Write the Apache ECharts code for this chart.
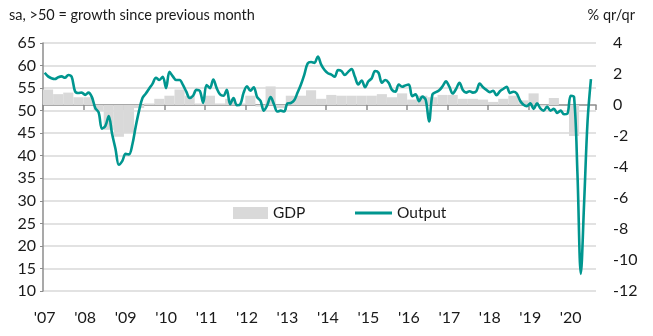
<!DOCTYPE html>
<html>
<head>
<meta charset="utf-8">
<script src="https://cdn.jsdelivr.net/npm/echarts@6/dist/echarts.min.js"></script>
<style>
html,body{margin:0;padding:0;background:#fff;}
#chart{width:653px;height:336px;}
</style>
</head>
<body>
<div id="chart"></div>
<script>
// ---- data ----
const yearLabels = ["'07","'08","'09","'10","'11","'12","'13","'14","'15","'16","'17","'18","'19","'20"];
// Output PMI (monthly, sa, >50 = growth)
const pmi2007 = [58.4, 57.6, 57.2, 57.0, 57.4, 57.6, 57.3, 57.9, 57.5, 54.3, 53.9, 54.0];
const pmi2008 = [53.5, 54.0, 53.0, 50.6, 49.6, 46.0, 46.6, 48.8, 44.8, 41.5, 38.0, 38.8];
const pmi2009 = [40.4, 40.3, 42.5, 46.5, 50.0, 52.8, 53.8, 54.9, 56.0, 57.3, 56.8, 57.5];
const pmi2010 = [55.0, 58.6, 57.6, 56.8, 56.8, 55.7, 54.2, 52.8, 53.3, 54.6, 54.4, 51.7];
const pmi2011 = [55.7, 55.0, 56.9, 55.0, 53.6, 53.3, 54.6, 51.4, 52.8, 51.2, 51.4, 54.0];
const pmi2012 = [55.4, 54.4, 55.2, 53.0, 52.2, 50.0, 51.2, 53.0, 51.4, 49.8, 50.0, 49.8];
const pmi2013 = [51.6, 51.7, 52.3, 54.0, 55.8, 58.0, 60.5, 60.8, 60.6, 62.0, 60.2, 59.0];
const pmi2014 = [58.3, 58.0, 57.5, 59.0, 58.8, 57.9, 58.6, 59.2, 57.5, 55.8, 56.7, 55.2];
const pmi2015 = [56.5, 57.2, 58.8, 58.4, 56.2, 56.8, 56.2, 54.6, 54.2, 55.8, 55.3, 55.6];
const pmi2016 = [55.8, 53.2, 53.6, 52.1, 53.1, 52.4, 47.6, 53.6, 54.1, 54.5, 55.4, 56.5];
const pmi2017 = [55.3, 53.8, 54.8, 56.2, 54.6, 54.0, 54.3, 54.0, 54.3, 56.0, 55.2, 54.6];
const pmi2018 = [54.1, 54.4, 53.4, 54.3, 54.8, 55.3, 53.9, 54.2, 53.8, 52.2, 51.3, 51.0];
const pmi2019 = [51.6, 50.4, 51.6, 50.5, 50.0, 50.9, 50.0, 50.4, 49.5, 50.0, 49.2, 49.3];
const pmi2020 = [53.3, 53.0, 36.0, 13.8, 30.0, 47.7, 57.0, null];
// GDP, % q/q (quarterly, 2007Q1 .. 2020Q1)
const gdp2007 = [1.0, 0.7, 0.8, 0.5];
const gdp2008 = [0.5, -0.4, -1.6, -2.05];
const gdp2009 = [-1.8, -0.2, 0.1, 0.4];
const gdp2010 = [0.6, 1.0, 0.6, 0.1];
const gdp2011 = [0.6, 0.1, 0.4, 0.1];
const gdp2012 = [0.6, -0.1, 1.2, -0.2];
const gdp2013 = [0.6, 0.6, 0.95, 0.4];
const gdp2014 = [0.65, 0.6, 0.6, 0.6];
const gdp2015 = [0.6, 0.7, 0.5, 0.75];
const gdp2016 = [0.35, 0.6, 0.5, 0.65];
const gdp2017 = [0.65, 0.4, 0.4, 0.35];
const gdp2018 = [0.2, 0.4, 0.6, 0.3];
const gdp2019 = [0.75, -0.1, 0.45, 0.0];
const gdp2020 = [-2.0];

// ---- build ----
const months = [];
for (let y = 0; y < yearLabels.length; y++) {
  for (let m = 1; m <= 12; m++) {
    if (y === yearLabels.length - 1 && m > 8) break;
    months.push((2007 + y) + '-' + (m < 10 ? '0' + m : m));
  }
}
const pmi = [].concat(pmi2007, pmi2008, pmi2009, pmi2010, pmi2011, pmi2012, pmi2013,
  pmi2014, pmi2015, pmi2016, pmi2017, pmi2018, pmi2019, pmi2020);
const gdpQ = [].concat(gdp2007, gdp2008, gdp2009, gdp2010, gdp2011, gdp2012, gdp2013,
  gdp2014, gdp2015, gdp2016, gdp2017, gdp2018, gdp2019, gdp2020);
const gdpData = gdpQ.map((v, q) => [q * 3, v]);

const FONT = 'Lato';
const TXT = '#1a1a1a';
const TEAL = '#00968F';
const GREY = '#D9D9D9';

const chart = echarts.init(document.getElementById('chart'), null, {renderer: 'canvas'});
chart.setOption({
  animation: false,
  textStyle: {fontFamily: FONT, color: TXT},
  title: [
    {text: 'sa, >50 = growth since previous month', left: 4, top: 3,
     textStyle: {fontFamily: FONT, fontSize: 14.5, fontWeight: 'normal', color: TXT}},
    {text: '% qr/qr', right: 13, top: 3,
     textStyle: {fontFamily: FONT, fontSize: 14.5, fontWeight: 'normal', color: TXT}}
  ],
  legend: [
    {data: [{name: 'GDP', icon: 'rect', itemStyle: {color: GREY}}],
     left: 233, top: 205, padding: 0, itemWidth: 35, itemHeight: 12,
     textStyle: {fontFamily: FONT, fontSize: 15.5, color: TXT}},
    {data: [{name: 'Output', icon: 'rect', itemStyle: {color: TEAL}}],
     left: 355, top: 205, padding: 0, itemWidth: 37, itemHeight: 3,
     textStyle: {fontFamily: FONT, fontSize: 15.5, color: TXT}}
  ],
  grid: {left: 43, right: 57, top: 43, bottom: 45, containLabel: false},
  xAxis: {
    type: 'category',
    data: months,
    boundaryGap: true,
    axisLine: {show: true, lineStyle: {color: '#8c8c8c', width: 1.5}},
    axisTick: {show: true, length: 5, interval: (i) => i % 12 === 0, lineStyle: {color: '#8c8c8c', width: 1.5}},
    axisLabel: {
      interval: (i) => i % 12 === 0,
      formatter: (v, i) => yearLabels[Math.floor(i / 12)],
      fontFamily: FONT, fontSize: 16, color: TXT, margin: 19
    },
    splitLine: {show: false}
  },
  yAxis: [
    {type: 'value', min: 10, max: 65, interval: 5, position: 'left',
     axisLine: {show: true, lineStyle: {color: '#8c8c8c', width: 1.5}},
     axisTick: {show: true, length: 3, lineStyle: {color: '#8c8c8c'}},
     axisLabel: {fontFamily: FONT, fontSize: 16, color: TXT, margin: 7},
     splitLine: {show: true, lineStyle: {color: GREY, width: 1.5}}},
    {type: 'value', min: -12, max: 4, interval: 2, position: 'right',
     axisLine: {show: false}, axisTick: {show: false},
     axisLabel: {fontFamily: FONT, fontSize: 16, color: TXT, margin: 17},
     splitLine: {show: false}}
  ],
  series: [
    {
      name: 'GDP', type: 'custom', yAxisIndex: 1, xAxisIndex: 0,
      itemStyle: {color: GREY},
      encode: {x: 0, y: 1},
      data: gdpData,
      renderItem: function (params, api) {
        const idx = api.value(0);
        const val = api.value(1);
        const p0 = api.coord([idx, 0]);
        const p1 = api.coord([idx + 2, val]);
        const band = api.size([1, 0])[0];
        const x0 = p0[0] - band / 2;
        const x1 = p1[0] + band / 2;
        return {
          type: 'rect',
          shape: {x: x0, y: Math.min(p0[1], p1[1]), width: x1 - x0, height: Math.abs(p1[1] - p0[1])},
          style: {fill: GREY}
        };
      },
      z: 1
    },
    {
      name: 'Output', type: 'line', yAxisIndex: 0,
      data: pmi, smooth: 0.35, symbol: 'none',
      lineStyle: {color: TEAL, width: 2.6},
      itemStyle: {color: TEAL},
      connectNulls: false,
      z: 3
    }
  ]
});
</script>
</body>
</html>
